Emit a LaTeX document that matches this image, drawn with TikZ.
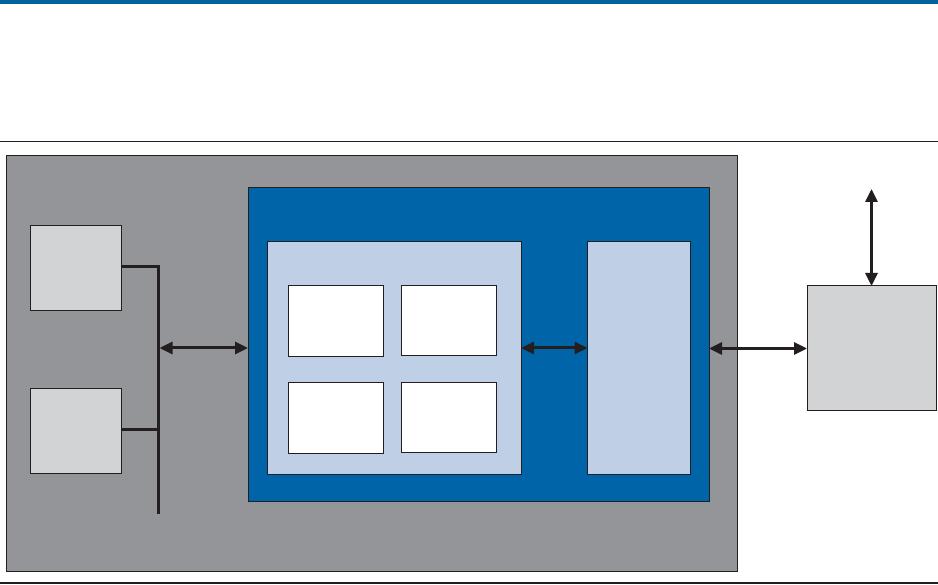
\documentclass[tikz,border=0pt]{standalone}
\usetikzlibrary{arrows.meta}
\definecolor{topblue}{HTML}{00639A}
\definecolor{outergray}{HTML}{939598}
\definecolor{darkblue}{HTML}{0065A8}
\definecolor{lightblue}{HTML}{BFCFE6}
\definecolor{lightgray}{HTML}{D1D3D4}
\definecolor{inkblack}{HTML}{231F20}
\tikzset{
  boxbase/.style={rectangle, draw=inkblack, line width=1pt, inner sep=0pt, outer sep=0pt},
  outerbox/.style={boxbase, fill=outergray},
  bluebox/.style={boxbase, fill=darkblue},
  lbbox/.style={boxbase, fill=lightblue},
  lgbox/.style={boxbase, fill=lightgray},
  whitebox/.style={boxbase, fill=white},
  busline/.style={draw=inkblack, line width=3pt},
  dbl/.style={draw=inkblack, line width=3pt,
    {Triangle[length=13pt,width=12pt]}-{Triangle[length=13pt,width=12pt]}},
  rule/.style={draw=inkblack, line width=1.3pt}
}
\begin{document}
\begin{tikzpicture}[x=1pt,y=-1pt]
\useasboundingbox (0,0) rectangle (938,585);
\fill[white] (0,0) rectangle (938,585);
% top band and rules
\fill[topblue] (0,0) rectangle (938,4.5);
\draw[rule] (0,141.5) -- (938,141.5);
\draw[rule] (0,583) -- (938,583);
% outer gray panel
\node[outerbox, minimum width=731pt, minimum height=415pt] (outer) at (371.5,363.5) {};
% blue block
\node[bluebox, minimum width=461pt, minimum height=313pt] (blue) at (478.5,344.5) {};
% light blue left block
\node[lbbox, minimum width=254pt, minimum height=233pt] (lb1) at (394,358.5) {};
% white cells
\node[whitebox, minimum width=95pt, minimum height=71pt] (w1) at (335.5,321.5) {};
\node[whitebox, minimum width=95pt, minimum height=70pt] (w2) at (448.5,321) {};
\node[whitebox, minimum width=95pt, minimum height=71pt] (w3) at (335.5,418.5) {};
\node[whitebox, minimum width=95pt, minimum height=70pt] (w4) at (448.5,418) {};
% light blue right block
\node[lbbox, minimum width=103pt, minimum height=233pt] (lb2) at (639,358.5) {};
% left gray modules
\node[lgbox, minimum width=91pt, minimum height=85pt] (m1) at (76,268.5) {};
\node[lgbox, minimum width=91pt, minimum height=85pt] (m2) at (76,431.5) {};
% right gray module
\node[lgbox, minimum width=129pt, minimum height=125pt] (rb) at (871.5,348.5) {};
% bus
\coordinate (bustop) at (158,267);
\coordinate (busbot) at (158,514);
\draw[busline] (m1.east |- bustop) -- (bustop) -- (busbot);
\draw[busline] (m2.east |- 0,430) -- (bustop |- 0,430);
\coordinate (busA) at (159.5,348);
% connectors
\draw[dbl] (busA) -- (busA -| blue.west);
\draw[dbl] (lb1.east |- busA) -- (lb2.west |- busA);
\draw[dbl] (blue.east |- rb.west) -- (rb.west);
\coordinate (topend) at (871.5,189);
\draw[dbl] (topend) -- (rb.north);
\end{tikzpicture}
\end{document}
